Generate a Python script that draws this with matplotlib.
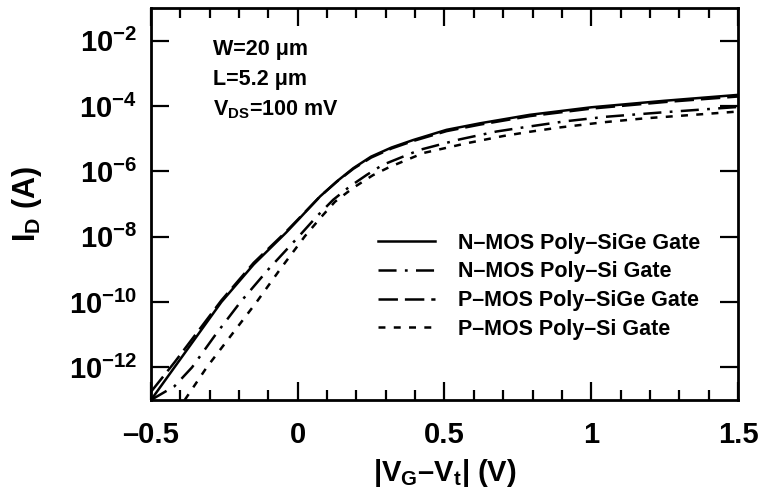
import numpy as np
import matplotlib
matplotlib.use('Agg')
import matplotlib.pyplot as plt
from matplotlib.ticker import FuncFormatter, MultipleLocator, FixedLocator, NullLocator

plt.rcParams['font.family'] = ['Liberation Sans', 'DejaVu Sans']
plt.rcParams['font.weight'] = 'bold'
plt.rcParams['mathtext.fontset'] = 'custom'
plt.rcParams['mathtext.rm'] = 'Liberation Sans:bold'
plt.rcParams['mathtext.bf'] = 'Liberation Sans:bold'
plt.rcParams['mathtext.it'] = 'Liberation Sans:bold'
plt.rcParams['lines.scale_dashes'] = False

# values (gate overdrive in V, log10 of drain current in A)
vg_n_sige = [-0.5, -0.42, -0.34, -0.26, -0.15, -0.04, 0.0, 0.076, 0.133, 0.19, 0.25, 0.32,
             0.394, 0.507, 0.621, 0.791, 1.0, 1.25, 1.5]
logid_n_sige = [-13.0, -12.0, -11.0, -10.0, -8.85, -7.88, -7.5, -6.77, -6.31, -5.9, -5.55, -5.27,
                -5.04, -4.73, -4.53, -4.27, -4.04, -3.84, -3.66]

vg_p_sige = [-0.5, -0.42, -0.34, -0.26, -0.15, -0.04, 0.0, 0.076, 0.133, 0.19, 0.25, 0.32,
             0.394, 0.507, 0.621, 0.791, 1.0, 1.25, 1.5]
logid_p_sige = [-12.75, -11.85, -10.9, -9.95, -8.8, -7.85, -7.48, -6.77, -6.32, -5.92, -5.58, -5.3,
                -5.07, -4.77, -4.57, -4.31, -4.08, -3.88, -3.71]

vg_n_si = [-0.5, -0.42, -0.36, -0.28, -0.195, -0.1, 0.008, 0.065, 0.121, 0.178, 0.235, 0.29,
           0.417, 0.553, 0.678, 0.78, 0.91, 1.05, 1.25, 1.5]
logid_n_si = [-13.0, -12.58, -12.0, -11.0, -10.0, -9.0, -7.95, -7.38, -6.87, -6.46, -6.11, -5.8,
              -5.34, -5.02, -4.78, -4.64, -4.47, -4.33, -4.19, -4.03]

vg_p_si = [-0.385, -0.31, -0.225, -0.14, -0.06, 0.025, 0.08, 0.127, 0.19, 0.256, 0.31,
           0.428, 0.576, 0.70, 0.79, 0.89, 1.04, 1.18, 1.35, 1.5]
logid_p_si = [-13.0, -12.0, -11.0, -10.0, -9.0, -7.98, -7.4, -6.93, -6.5, -6.12, -5.88,
              -5.44, -5.14, -4.92, -4.79, -4.66, -4.5, -4.38, -4.27, -4.17]

labels = ['N\u2013MOS Poly\u2013SiGe Gate', 'N\u2013MOS Poly\u2013Si Gate',
          'P\u2013MOS Poly\u2013SiGe Gate', 'P\u2013MOS Poly\u2013Si Gate']

fig = plt.figure(figsize=(7.64, 4.99), dpi=100)
ax = fig.add_axes([0.1976, 0.1984, 0.7683, 0.7856])

lw = 1.8
ax.plot(vg_n_sige, 10.0 ** np.array(logid_n_sige), color='black', lw=lw, label=labels[0])
ax.plot(vg_n_si, 10.0 ** np.array(logid_n_si), color='black', lw=lw,
        dashes=(13, 6, 2, 6), label=labels[1])
ax.plot(vg_p_sige, 10.0 ** np.array(logid_p_sige), color='black', lw=lw,
        dashes=(14, 5), label=labels[2])
ax.plot(vg_p_si, 10.0 ** np.array(logid_p_si), color='black', lw=lw,
        dashes=(5, 6), label=labels[3])

ax.set_yscale('log')
ax.set_xlim(-0.5, 1.5)
ax.set_ylim(1e-13, 1e-1)

ax.xaxis.set_major_locator(MultipleLocator(0.5))
ax.xaxis.set_minor_locator(MultipleLocator(0.1))
ax.yaxis.set_major_locator(FixedLocator([1e-12, 1e-10, 1e-8, 1e-6, 1e-4, 1e-2]))
ax.yaxis.set_minor_locator(NullLocator())

ax.xaxis.set_major_formatter(FuncFormatter(lambda v, p: '{:g}'.format(v).replace('-', '\u2013')))
ax.yaxis.set_major_formatter(FuncFormatter(lambda v, p: r'$\mathbf{10^{%d}}$' % round(np.log10(v))))

ax.tick_params(which='both', direction='in', top=True, right=True, width=1.6)
ax.tick_params(which='major', length=13, labelsize=21)
ax.tick_params(which='minor', length=7)
ax.tick_params(axis='x', which='major', pad=15)
ax.tick_params(axis='y', which='major', pad=10)
for s in ax.spines.values():
    s.set_linewidth(2.0)

ax.set_xlabel('|V$_\\mathbf{G}$\u2013V$_\\mathbf{t}$| (V)', fontsize=21, fontweight='bold', labelpad=6)
ax.set_ylabel('I$_\\mathbf{D}$ (A)', fontsize=22, fontweight='bold', labelpad=18)

ax.text(0.106, 0.895, 'W=20 \u03bcm', transform=ax.transAxes, fontsize=15.5, fontweight='bold', va='center')
ax.text(0.106, 0.818, 'L=5.2 \u03bcm', transform=ax.transAxes, fontsize=15.5, fontweight='bold', va='center')
ax.text(0.106, 0.741, 'V$_\\mathbf{DS}$=100 mV', transform=ax.transAxes, fontsize=15.5, fontweight='bold', va='center')

ax.legend(loc='center left', bbox_to_anchor=(0.387, 0.29), frameon=False, fontsize=15.5,
          handlelength=2.65, handletextpad=1.05, labelspacing=0.36, borderpad=0, borderaxespad=0)

fig.savefig('out.png', dpi=100)
